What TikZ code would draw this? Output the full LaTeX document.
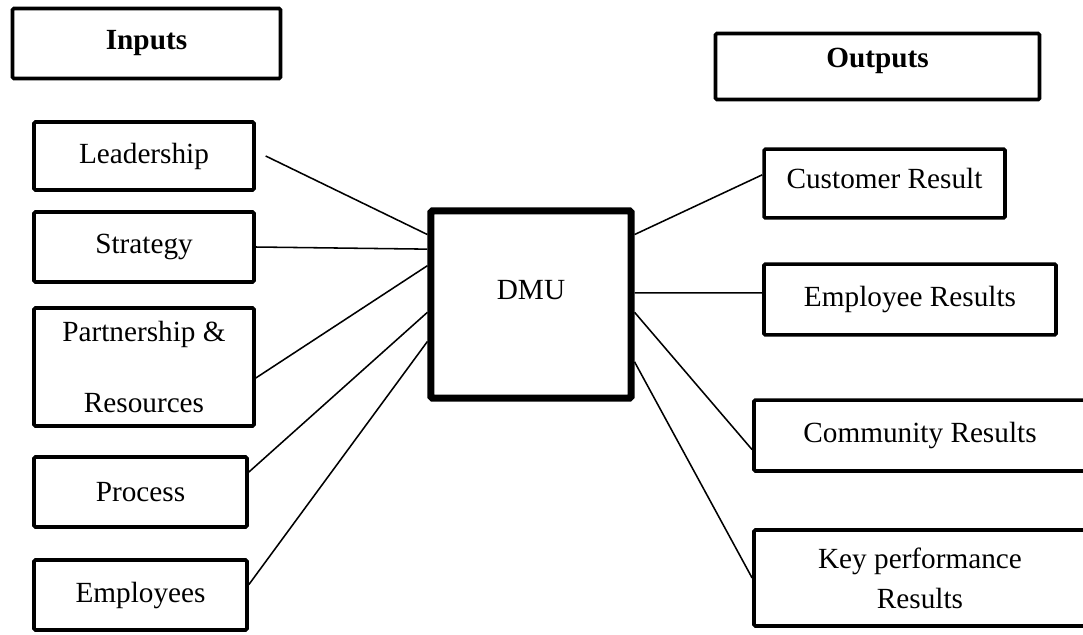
\documentclass[tikz,border=0pt]{standalone}
\usepackage{fontspec}
\setmainfont{Liberation Serif}
\usetikzlibrary{calc}

\begin{document}
\begin{tikzpicture}[
  x=0.025cm, y=-0.025cm,
  font=\fontsize{20.8}{28.5}\selectfont,
  box/.style={draw, line width=2.6pt, rounded corners=1pt, align=center, inner sep=2pt},
  head/.style={box, font=\fontsize{20.8}{28.5}\selectfont\bfseries},
  unit/.style={draw, line width=5pt, rounded corners=1pt, inner sep=2pt},
  link/.style={line width=1.1pt}
]
\useasboundingbox (0,0) rectangle (1083,634);

\node[head, minimum width=6.7cm, minimum height=1.75cm] (inp) at (146.5,43.5) {Inputs};
\node[head, minimum width=8.1cm, minimum height=1.65cm, text depth=12pt] (outp) at (877.5,66.5) {Outputs};

\node[box, minimum width=5.5cm, minimum height=1.7cm] (lead) at (144,156) {Leadership};
\node[box, minimum width=5.5cm, minimum height=1.75cm] (strat) at (144,247) {Strategy};
\node[box, minimum width=5.5cm, minimum height=2.95cm] (part) at (144,367) {Partnership \&\\[22pt]Resources};
\node[box, minimum width=5.32cm, minimum height=1.75cm] (proc) at (140.5,492) {Process};
\node[box, minimum width=5.32cm, minimum height=1.75cm] (emp) at (140.5,595) {Employees};

\node[unit, minimum width=5.0cm, minimum height=4.68cm, text depth=21pt] (dmu) at (531,304.5) {DMU};

\node[box, minimum width=6.02cm, minimum height=1.72cm, text depth=8pt] (cust) at (884.5,183.5) {Customer Result};
\node[box, minimum width=7.3cm, minimum height=1.77cm] (empres) at (910,299.5) {Employee Results};
\node[box, minimum width=8.3cm, minimum height=1.77cm] (comm) at (920,435.5) {Community Results};
\node[box, minimum width=8.3cm, minimum height=2.4cm] (kpr) at (920,578) {Key performance\\Results};

% inputs to DMU
\draw[link] ([xshift=7pt]lead.east) -- ($(dmu.north west)!0.14!(dmu.south west)$);
\draw[link] (strat.east) -- ($(dmu.north west)!0.215!(dmu.south west)$);
\draw[link] ($(part.north east)!0.59!(part.south east)$) -- ($(dmu.north west)!0.30!(dmu.south west)$);
\draw[link] ($(proc.north east)!0.23!(proc.south east)$) -- ($(dmu.north west)!0.54!(dmu.south west)$);
\draw[link] ($(emp.north east)!0.36!(emp.south east)$) -- ($(dmu.north west)!0.69!(dmu.south west)$);

% DMU to outputs
\draw[link] ($(dmu.north east)!0.14!(dmu.south east)$) -- ($(cust.north west)!0.38!(cust.south west)$);
\draw[link] ($(dmu.north east)!0.44!(dmu.south east)$) -- ($(empres.north west)!0.41!(empres.south west)$);
\draw[link] ($(dmu.north east)!0.54!(dmu.south east)$) -- ($(comm.north west)!0.69!(comm.south west)$);
\draw[link] ($(dmu.north east)!0.795!(dmu.south east)$) -- (kpr.west);

\end{tikzpicture}
\end{document}
